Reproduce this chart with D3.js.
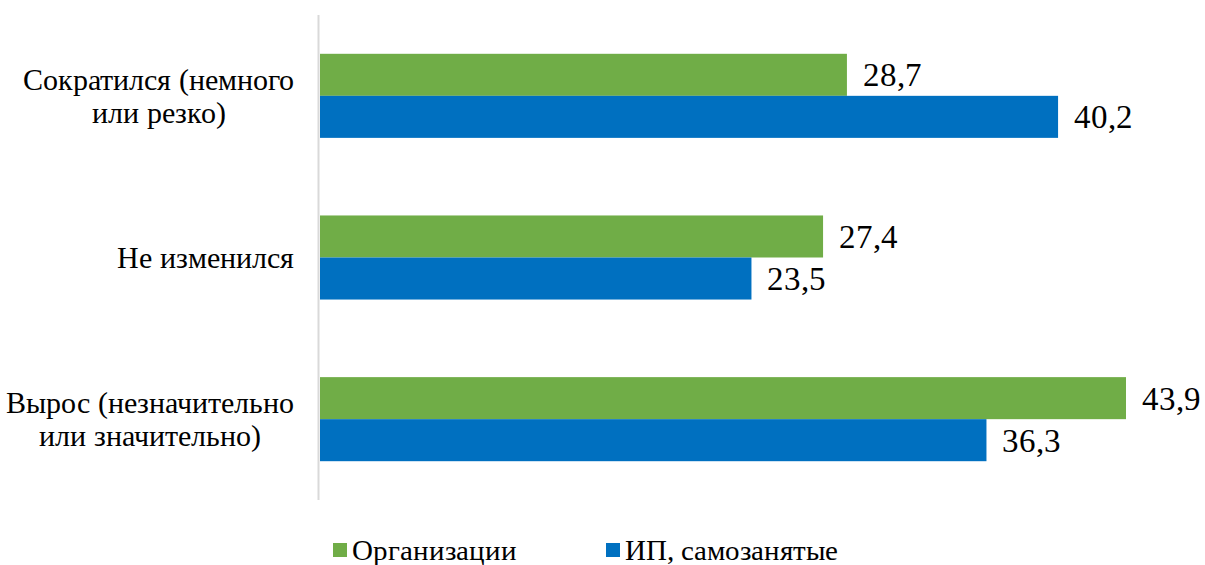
<!DOCTYPE html>
<html><head><meta charset="utf-8"><script src="https://cdn.jsdelivr.net/npm/d3@7"></script>
<style>
@font-face { font-family: "ChartSerif"; src: local("Liberation Serif"), local("LiberationSerif"), local("LiberationSerif-Regular"), local("Tinos"), local("Tinos-Regular"); }
</style>
</head>
<body style="margin:0">
<div id="chart"></div>
<script>
const w = 1205;
const h = 565;
const font = "ChartSerif, 'Liberation Serif', Tinos, serif";

// data
const categories = [
    ["Сократился (немного", "или резко)"],
    ["Не изменился"],
    ["Вырос (незначительно", "или значительно)"]
];
const seriesNames = ["Организации", "ИП, самозанятые"];
const orgValues = [28.7, 27.4, 43.9];
const ipValues = [40.2, 23.5, 36.3];
const colors = ["#70AD47", "#0070C0"];

const svg = d3.select("div#chart").append("svg")
    .attr("width", w)
    .attr("height", h);

const x = d3.scaleLinear().domain([0, 43.9]).range([320, 1126]);
const y = d3.scaleBand().domain(d3.range(categories.length)).range([15, 500])
    .paddingInner(0.48).paddingOuter(0.24);
const ySub = d3.scaleBand().domain([0, 1]).range([0, y.bandwidth()]);

const rows = categories.map(function(c, i) {
    return {i: i, label: c, values: [orgValues[i], ipValues[i]]};
});

// bars
const groups = svg.selectAll("g.group")
    .data(rows)
    .enter()
    .append("g")
    .attr("class", "group")
    .attr("transform", function(d) { return "translate(0," + y(d.i) + ")"; });

groups.selectAll("rect")
    .data(function(d) { return d.values; })
    .enter()
    .append("rect")
    .attr("x", x(0))
    .attr("y", function(d, j) { return ySub(j); })
    .attr("width", function(d) { return x(d) - x(0); })
    .attr("height", ySub.bandwidth())
    .attr("fill", function(d, j) { return colors[j]; });

// value labels
groups.selectAll("text.val")
    .data(function(d) { return d.values; })
    .enter()
    .append("text")
    .attr("class", "val")
    .attr("font-family", font)
    .attr("font-size", 33)
    .attr("x", function(d) { return x(d) + 16; })
    .attr("y", function(d, j) { return ySub(j) + ySub.bandwidth() / 2; })
    .attr("dy", "0.35em")
    .attr("fill", "#000")
    .text(function(d) { return d3.format(".1f")(d).replace(".", ","); });

// axis line
svg.append("line")
    .attr("x1", 318.5).attr("x2", 318.5)
    .attr("y1", 15).attr("y2", 500)
    .attr("stroke", "#d9d9d9")
    .attr("stroke-width", 2);

// category labels: lines centred on each other, block right-aligned to x=294
const catLabels = svg.selectAll("text.cat")
    .data(rows)
    .enter()
    .append("text")
    .attr("class", "cat")
    .attr("font-family", font)
    .attr("font-size", 29.5)
    .attr("text-anchor", "middle")
    .attr("fill", "#000")
    .attr("y", function(d) {
        return y(d.i) + y.bandwidth() / 2 - (d.label.length - 1) * 16.5;
    });

catLabels.selectAll("tspan")
    .data(function(d) { return d.label; })
    .enter()
    .append("tspan")
    .attr("dy", function(d, k) { return k === 0 ? "0.35em" : "33"; })
    .text(function(d) { return d; });

catLabels.each(function() {
    const spans = d3.select(this).selectAll("tspan");
    let maxW = 0;
    spans.each(function() { maxW = Math.max(maxW, this.getComputedTextLength()); });
    spans.attr("x", 294 - maxW / 2);
});

// legend
const legendX = [333, 606];
const legend = svg.selectAll("g.legend")
    .data(seriesNames)
    .enter()
    .append("g")
    .attr("class", "legend")
    .attr("transform", function(d, i) { return "translate(" + legendX[i] + ",550)"; });

legend.append("rect")
    .attr("x", 0).attr("y", -7)
    .attr("width", 14).attr("height", 14)
    .attr("fill", function(d, i) { return colors[i]; });

legend.append("text")
    .attr("font-family", font)
    .attr("font-size", 29)
    .attr("x", 19)
    .attr("dy", "0.35em")
    .attr("fill", "#000")
    .text(function(d) { return d; });
</script>
</body></html>
